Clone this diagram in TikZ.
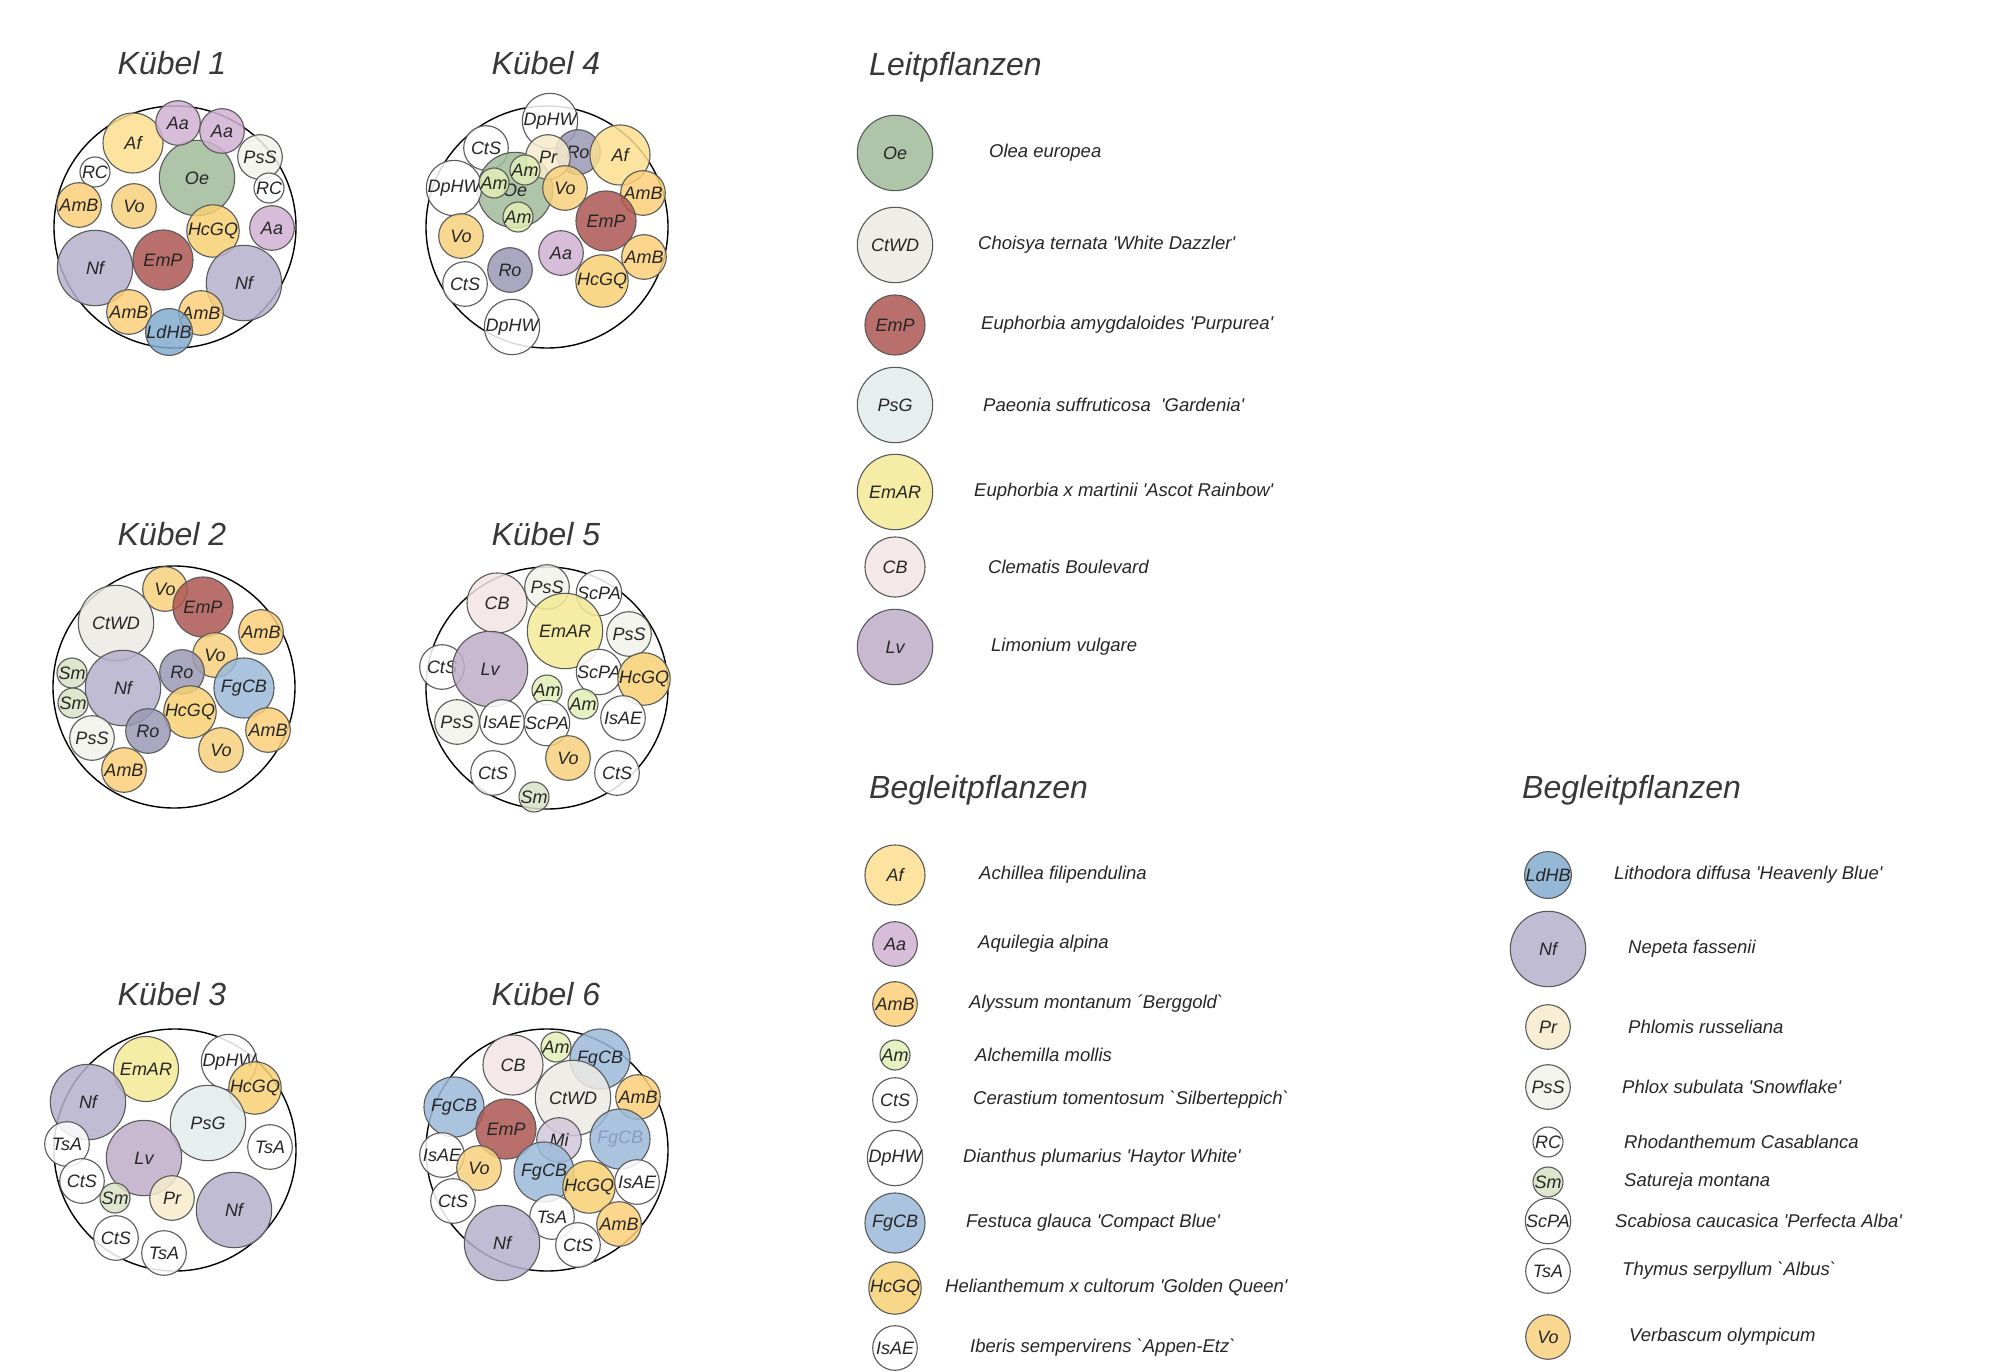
\documentclass[tikz,border=0pt]{standalone}
\usepackage{fontspec}
\setmainfont{Liberation Sans}
\usepackage{tikz}

\newcommand{\qs}{\textquotesingle}
\newcommand{\qb}{\textasciigrave}

% plant colours
\definecolor{cOe}{RGB}{161,187,155}
\definecolor{cCtWD}{RGB}{235,234,228}
\definecolor{cEmP}{RGB}{173,87,82}
\definecolor{cPsG}{RGB}{226,236,235}
\definecolor{cEmAR}{RGB}{243,234,149}
\definecolor{cCB}{RGB}{243,228,228}
\definecolor{cLv}{RGB}{190,173,200}
\definecolor{cAf}{RGB}{251,223,143}
\definecolor{cAa}{RGB}{209,178,211}
\definecolor{cAmB}{RGB}{251,207,120}
\definecolor{cAm}{RGB}{226,237,181}
\definecolor{cFgCB}{RGB}{155,186,218}
\definecolor{cHcGQ}{RGB}{247,209,115}
\definecolor{cLdHB}{RGB}{129,171,207}
\definecolor{cNf}{RGB}{181,176,204}
\definecolor{cPr}{RGB}{247,235,204}
\definecolor{cPsS}{RGB}{242,242,235}
\definecolor{cSm}{RGB}{216,226,196}
\definecolor{cVo}{RGB}{247,209,124}
\definecolor{cRo}{RGB}{155,153,181}
\definecolor{cMi}{RGB}{209,200,218}
\definecolor{cFaded}{RGB}{138,156,190}

\tikzset{
  plant/.style={circle,draw=black!65,line width=1.1pt,inner sep=0pt,fill=white,
    fill opacity=0.85,text opacity=1,text=black!85,font=\fontsize{18}{20}\selectfont\itshape},
  big/.style={minimum size=75.4pt},
  mid/.style={minimum size=60pt},
  sml/.style={minimum size=44.6pt},
  tny/.style={minimum size=30pt},
  pOe/.style={plant,big,fill=cOe},
  pCtWD/.style={plant,big,fill=cCtWD},
  pEmP/.style={plant,mid,fill=cEmP},
  pPsG/.style={plant,big,fill=cPsG},
  pEmAR/.style={plant,big,fill=cEmAR},
  pCB/.style={plant,mid,fill=cCB},
  pLv/.style={plant,big,fill=cLv},
  pAf/.style={plant,mid,fill=cAf},
  pAa/.style={plant,sml,fill=cAa},
  pAmB/.style={plant,sml,fill=cAmB},
  pAm/.style={plant,tny,fill=cAm},
  pCtS/.style={plant,sml},
  pDpHW/.style={plant,sml},
  pFgCB/.style={plant,mid,fill=cFgCB},
  pHcGQ/.style={plant,sml,fill=cHcGQ},
  pIsAE/.style={plant,sml},
  pLdHB/.style={plant,sml,fill=cLdHB},
  pNf/.style={plant,big,fill=cNf},
  pPr/.style={plant,sml,fill=cPr},
  pPsS/.style={plant,sml,fill=cPsS},
  pRC/.style={plant,tny},
  pSm/.style={plant,tny,fill=cSm},
  pScPA/.style={plant,tny},
  pTsA/.style={plant,sml},
  pVo/.style={plant,sml,fill=cVo},
  pRo/.style={plant,sml,fill=cRo},
  pMi/.style={plant,sml,fill=cMi},
  tub/.style={circle,draw=black,line width=1.4pt,inner sep=0pt,minimum size=242pt},
  title/.style={anchor=base,text=black!78,font=\fontsize{32}{36}\selectfont\itshape},
  legtitle/.style={anchor=base west,inner sep=0pt,text=black!78,font=\fontsize{32}{36}\selectfont\itshape},
  legtext/.style={anchor=west,inner sep=0pt,text=black!85,font=\fontsize{18.5}{21}\selectfont\itshape}
}

\begin{document}
\begin{tikzpicture}[x=1pt,y=-1pt]
  \useasboundingbox (0,0) rectangle (2002,1372);

  % Kuebel 1
  \node[title] (t1) at (172,75) {Kübel 1};
  \node[tub] (k1) at (175,227) {};
  \node[pOe] (k1oe) at (197,178) {Oe};
  \node[pAf] (k1af) at (133,143) {Af};
  \node[pAa] (k1aa1) at (178,123) {Aa};
  \node[pAa] (k1aa2) at (222,131) {Aa};
  \node[pPsS] (k1pss) at (260,157) {PsS};
  \node[pRC] (k1rc1) at (95,172) {RC};
  \node[pRC] (k1rc2) at (269,188) {RC};
  \node[pAmB] (k1amb1) at (79,205) {AmB};
  \node[pVo] (k1vo) at (134,206) {Vo};
  \node[pHcGQ] (k1hcgq) at (213,231) {HcGQ};
  \node[pAa] (k1aa3) at (272,228) {Aa};
  \node[pEmP] (k1emp) at (163,260) {EmP};
  \node[pNf] (k1nf1) at (95,268) {Nf};
  \node[pNf] (k1nf2) at (244,283) {Nf};
  \node[pAmB] (k1amb2) at (129,312) {AmB};
  \node[pAmB] (k1amb3) at (201,313) {AmB};
  \node[pLdHB] (k1ldhb) at (169,332) {LdHB};

  % Kuebel 4
  \node[title] (t4) at (546,75) {Kübel 4};
  \node[tub] (k4) at (547,227) {};
  \node[pDpHW] (k4dphw1) at (550,121) {DpHW};
  \node[pCtS] (k4cts1) at (486,148) {CtS};
  \node[pOe] (k4oe) at (515,190) {Oe};
  \node[pRo] (k4ro1) at (578,152) {Ro};
  \node[pPr] (k4pr) at (548,157) {Pr};
  \node[pAf] (k4af) at (620,155) {Af};
  \node[pAm] (k4am1) at (525,170) {Am};
  \node[pDpHW] (k4dphw2) at (454,188) {DpHW};
  \node[pAm] (k4am2) at (494,183) {Am};
  \node[pVo] (k4vo1) at (565,188) {Vo};
  \node[pAmB] (k4amb1) at (643,193) {AmB};
  \node[pAm] (k4am3) at (518,217) {Am};
  \node[pEmP] (k4emp) at (606,221) {EmP};
  \node[pVo] (k4vo2) at (461,236) {Vo};
  \node[pAa] (k4aa) at (561,253) {Aa};
  \node[pAmB] (k4amb2) at (644,257) {AmB};
  \node[pRo] (k4ro2) at (510,270) {Ro};
  \node[pCtS] (k4cts2) at (465,284) {CtS};
  \node[pHcGQ] (k4hcgq) at (602,281) {HcGQ};
  \node[pDpHW] (k4dphw3) at (512,327) {DpHW};

  % Kuebel 2
  \node[title] (t2) at (172,545) {Kübel 2};
  \node[tub] (k2) at (174,687) {};
  \node[pVo] (k2vo1) at (165,589) {Vo};
  \node[pEmP] (k2emp) at (203,607) {EmP};
  \node[pCtWD] (k2ctwd) at (116,623) {CtWD};
  \node[pAmB] (k2amb1) at (261,632) {AmB};
  \node[pVo] (k2vo2) at (215,655) {Vo};
  \node[pRo] (k2ro1) at (182,672) {Ro};
  \node[pSm] (k2sm1) at (72,673) {Sm};
  \node[pNf] (k2nf) at (123,688) {Nf};
  \node[pFgCB] (k2fgcb) at (244,688) {FgCB};
  \node[pSm] (k2sm2) at (73,703) {Sm};
  \node[pHcGQ] (k2hcgq) at (190,712) {HcGQ};
  \node[pRo] (k2ro2) at (148,731) {Ro};
  \node[pAmB] (k2amb2) at (268,730) {AmB};
  \node[pPsS] (k2pss) at (92,738) {PsS};
  \node[pVo] (k2vo3) at (221,750) {Vo};
  \node[pAmB] (k2amb3) at (124,770) {AmB};

  % Kuebel 5
  \node[title] (t5) at (546,545) {Kübel 5};
  \node[tub] (k5) at (547,688) {};
  \node[pPsS] (k5pss1) at (547,587) {PsS};
  \node[pScPA] (k5scpa1) at (599,593) {ScPA};
  \node[pCB] (k5cb) at (497,603) {CB};
  \node[pEmAR] (k5emar) at (565,631) {EmAR};
  \node[pPsS] (k5pss2) at (629,634) {PsS};
  \node[pCtS] (k5cts1) at (442,667) {CtS};
  \node[pLv] (k5lv) at (490,669) {Lv};
  \node[pScPA] (k5scpa2) at (599,672) {ScPA};
  \node[pHcGQ] (k5hcgq) at (644,679) {HcGQ};
  \node[pAm] (k5am1) at (547,690) {Am};
  \node[pAm] (k5am2) at (583,704) {Am};
  \node[pPsS] (k5pss3) at (457,722) {PsS};
  \node[pIsAE] (k5isae1) at (502,722) {IsAE};
  \node[pScPA] (k5scpa3) at (547,723) {ScPA};
  \node[pIsAE] (k5isae2) at (623,718) {IsAE};
  \node[pVo] (k5vo) at (568,758) {Vo};
  \node[pCtS] (k5cts2) at (493,773) {CtS};
  \node[pCtS] (k5cts3) at (617,773) {CtS};
  \node[pSm] (k5sm) at (534,797) {Sm};

  % Kuebel 3
  \node[title] (t3) at (172,1005) {Kübel 3};
  \node[tub] (k3) at (175,1150) {};
  \node[pEmAR,minimum size=65pt] (k3emar) at (146,1069) {EmAR};
  \node[pDpHW] (k3dphw) at (229,1062) {DpHW};
  \node[pHcGQ] (k3hcgq) at (255,1088) {HcGQ};
  \node[pNf] (k3nf1) at (88,1102) {Nf};
  \node[pPsG] (k3psg) at (208,1123) {PsG};
  \node[pTsA] (k3tsa1) at (67,1144) {TsA};
  \node[pTsA] (k3tsa2) at (270,1147) {TsA};
  \node[pLv] (k3lv) at (144,1158) {Lv};
  \node[pCtS] (k3cts1) at (82,1181) {CtS};
  \node[pSm] (k3sm) at (115,1198) {Sm};
  \node[pPr] (k3pr) at (172,1198) {Pr};
  \node[pNf] (k3nf2) at (234,1210) {Nf};
  \node[pCtS] (k3cts2) at (116,1238) {CtS};
  \node[pTsA] (k3tsa3) at (164,1253) {TsA};

  % Kuebel 6
  \node[title] (t6) at (546,1005) {Kübel 6};
  \node[tub] (k6) at (547,1150) {};
  \node[pAm] (k6am) at (556,1047) {Am};
  \node[pCB] (k6cb) at (513,1065) {CB};
  \node[pFgCB] (k6fgcb1) at (600,1059) {FgCB};
  \node[pCtWD] (k6ctwd) at (573,1098) {CtWD};
  \node[pAmB] (k6amb1) at (638,1097) {AmB};
  \node[pFgCB] (k6fgcb2) at (454,1107) {FgCB};
  \node[pEmP] (k6emp) at (506,1129) {EmP};
  \node[pMi] (k6mi) at (559,1140) {Mi};
  \node[pFgCB,text=cFaded] (k6fgcb3) at (620,1139) {FgCB};
  \node[pIsAE] (k6isae1) at (442,1155) {IsAE};
  \node[pVo] (k6vo) at (479,1168) {Vo};
  \node[pFgCB] (k6fgcb4) at (544,1172) {FgCB};
  \node[pHcGQ] (k6hcgq) at (589,1187) {HcGQ};
  \node[pIsAE] (k6isae2) at (637,1182) {IsAE};
  \node[pCtS] (k6cts1) at (453,1201) {CtS};
  \node[pTsA] (k6tsa) at (552,1217) {TsA};
  \node[pAmB] (k6amb2) at (619,1224) {AmB};
  \node[pNf] (k6nf) at (502,1243) {Nf};
  \node[pCtS] (k6cts2) at (578,1245) {CtS};

  % Leitpflanzen
  \node[legtitle] (lt) at (869,76) {Leitpflanzen};
  \node[pOe] (lOe) at (895,153) {Oe};
  \node[legtext] (xOe) at (989,153) {Olea europea};
  \node[pCtWD] (lCtWD) at (895,245) {CtWD};
  \node[legtext] (xCtWD) at (978,245) {Choisya ternata \qs White Dazzler\qs};
  \node[pEmP] (lEmP) at (895,325) {EmP};
  \node[legtext] (xEmP) at (981,325) {Euphorbia amygdaloides \qs Purpurea\qs};
  \node[pPsG] (lPsG) at (895,405) {PsG};
  \node[legtext] (xPsG) at (983,405) {Paeonia suffruticosa\ \ \qs Gardenia\qs};
  \node[pEmAR] (lEmAR) at (895,492) {EmAR};
  \node[legtext] (xEmAR) at (974,492) {Euphorbia x martinii \qs Ascot Rainbow\qs};
  \node[pCB] (lCB) at (895,567) {CB};
  \node[legtext] (xCB) at (988,567) {Clematis Boulevard};
  \node[pLv] (lLv) at (895,647) {Lv};
  \node[legtext] (xLv) at (991,647) {Limonium vulgare};

  % Begleitpflanzen
  \node[legtitle] (bt1) at (869,798) {Begleitpflanzen};
  \node[pAf] (lAf) at (895,875) {Af};
  \node[legtext] (xAf) at (979,875) {Achillea filipendulina};
  \node[pAa] (lAa) at (895,944) {Aa};
  \node[legtext] (xAa) at (978,944) {Aquilegia alpina};
  \node[pAmB] (lAmB) at (895,1004) {AmB};
  \node[legtext] (xAmB) at (969,1004) {Alyssum montanum ´Berggold\qb};
  \node[pAm] (lAm) at (895,1055) {Am};
  \node[legtext] (xAm) at (975,1055) {Alchemilla mollis};
  \node[pCtS] (lCtS) at (895,1100) {CtS};
  \node[legtext] (xCtS) at (973,1100) {Cerastium tomentosum \qb Silberteppich\qb};
  \node[pDpHW] (lDpHW) at (895,1158) {DpHW};
  \node[legtext] (xDpHW) at (963,1158) {Dianthus plumarius \qs Haytor White\qs};
  \node[pFgCB] (lFgCB) at (895,1223) {FgCB};
  \node[legtext] (xFgCB) at (966,1223) {Festuca glauca \qs Compact Blue\qs};
  \node[pHcGQ] (lHcGQ) at (895,1288) {HcGQ};
  \node[legtext] (xHcGQ) at (945,1288) {Helianthemum x cultorum \qs Golden Queen\qs};
  \node[pIsAE] (lIsAE) at (895,1348) {IsAE};
  \node[legtext] (xIsAE) at (970,1348) {Iberis sempervirens \qb Appen-Etz\qb};

  \node[legtitle] (bt2) at (1522,798) {Begleitpflanzen};
  \node[pLdHB] (lLdHB) at (1548,875) {LdHB};
  \node[legtext] (xLdHB) at (1614,875) {Lithodora diffusa \qs Heavenly Blue\qs};
  \node[pNf] (lNf) at (1548,949) {Nf};
  \node[legtext] (xNf) at (1628,949) {Nepeta fassenii};
  \node[pPr] (lPr) at (1548,1027) {Pr};
  \node[legtext] (xPr) at (1628,1027) {Phlomis russeliana};
  \node[pPsS] (lPsS) at (1548,1087) {PsS};
  \node[legtext] (xPsS) at (1622,1087) {Phlox subulata \qs Snowflake\qs};
  \node[pRC] (lRC) at (1548,1142) {RC};
  \node[legtext] (xRC) at (1624,1142) {Rhodanthemum Casablanca};
  \node[pSm] (lSm) at (1548,1182) {Sm};
  \node[legtext] (xSm) at (1624,1182) {Satureja montana};
  \node[pScPA] (lScPA) at (1548,1221) {ScPA};
  \node[legtext] (xScPA) at (1615,1221) {Scabiosa caucasica \qs Perfecta Alba\qs};
  \node[pTsA] (lTsA) at (1548,1271) {TsA};
  \node[legtext] (xTsA) at (1622,1271) {Thymus serpyllum \qb Albus\qb};
  \node[pVo] (lVo) at (1548,1337) {Vo};
  \node[legtext] (xVo) at (1629,1337) {Verbascum olympicum};
\end{tikzpicture}
\end{document}
